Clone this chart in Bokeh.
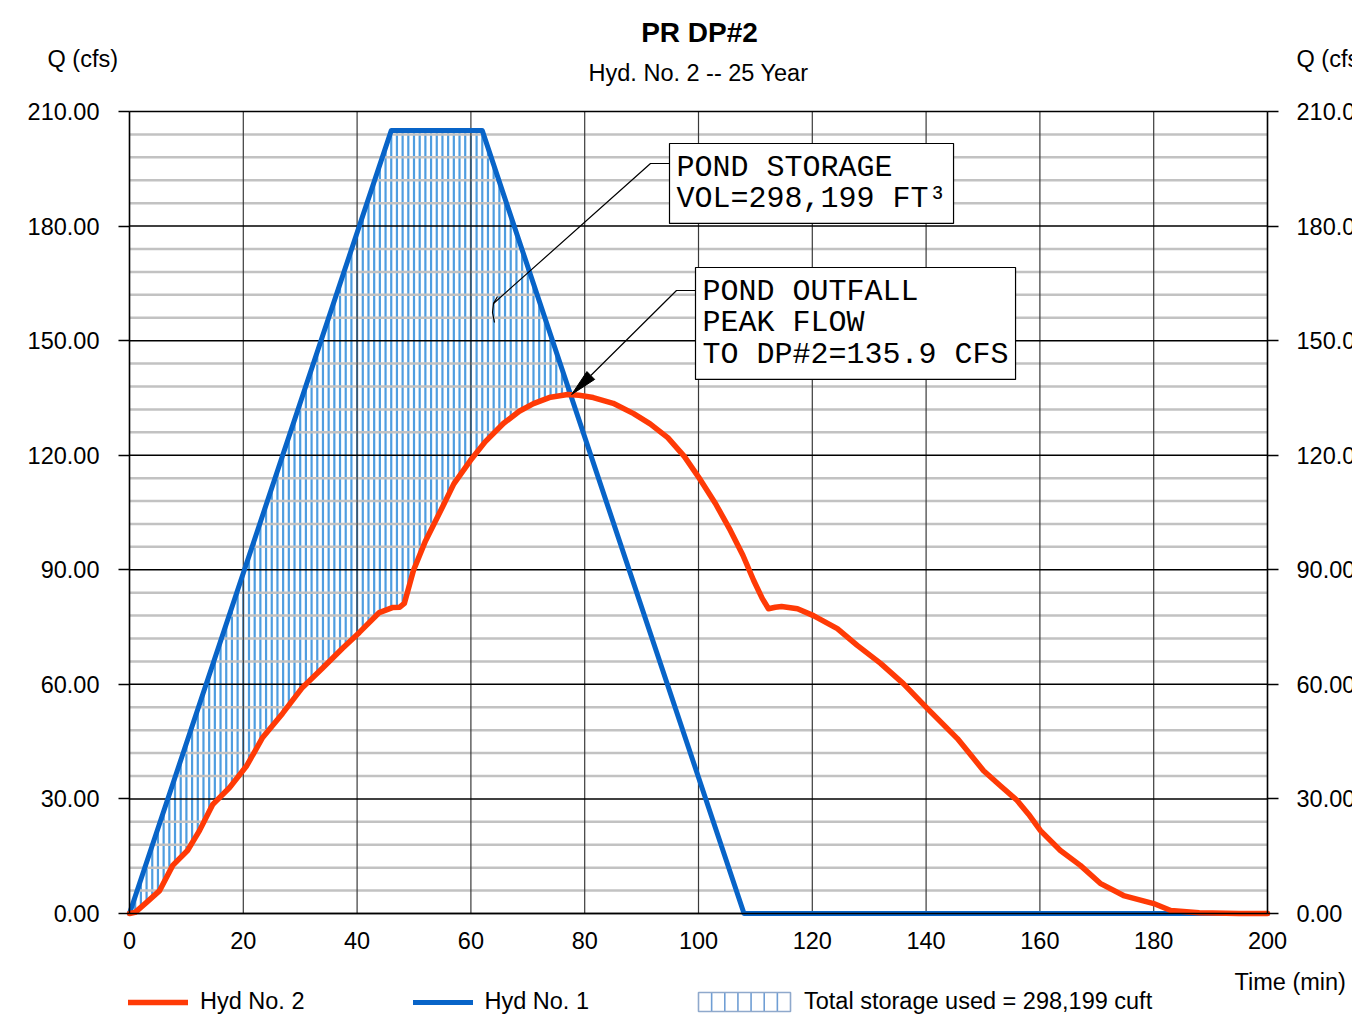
import numpy as np
from bokeh.plotting import figure
from bokeh.models import (FixedTicker, NumeralTickFormatter, LinearAxis, Range1d, Legend,
                          LegendItem, Label)
from bokeh.embed import file_html
from bokeh.resources import INLINE

# ---------------- data ----------------
time_hyd2 = [0, 1, 3, 5.3, 7.6, 10.2, 12.3, 14.6, 17.6, 20.6, 23.4, 26.9, 30.4, 33.9, 37.4,
             40.4, 43.9, 46.2, 47.5, 48.3, 49.9, 52, 54.7, 57, 59.9, 62.5, 65.7, 68.5, 71, 74,
             77, 79, 81.5, 85, 88.6, 91.5, 94.6, 97.5, 100.4, 103, 105.6, 107.8, 109.7, 111.2,
             112.3, 113.5, 114.6, 117.4, 120.2, 124.4, 127.9, 132, 136, 140.2, 145.5, 150.1,
             153, 156, 158, 160.1, 163.6, 167.1, 170.6, 174.7, 180, 183, 188, 195, 200]
flow_hyd2 = [0, 0.3, 2.9, 6, 12.6, 16.5, 21.7, 28.5, 33, 38.7, 46.1, 52.4, 59.2, 64.2, 69.4,
             73.6, 78.8, 80.1, 80.2, 81.2, 89.8, 97.5, 105.5, 112.5, 118.6, 123.5, 128.3, 131.5,
             133.5, 135.2, 135.9, 135.7, 135.1, 133.6, 130.9, 128.2, 124.6, 119.7, 113.4, 107.3,
             100.3, 93.8, 87.2, 82.5, 79.8, 80.2, 80.4, 79.8, 78, 74.6, 70.2, 65.5, 60.2, 53.7,
             45.8, 37.4, 33.5, 29.6, 26, 21.7, 16.5, 12.6, 7.9, 4.7, 2.6, 0.8, 0.2, 0.0, 0.0]
time_hyd1 = [0, 46, 62, 108, 200]
flow_hyd1 = [0, 205, 205, 0, 0]

x_ticks = [0, 20, 40, 60, 80, 100, 120, 140, 160, 180, 200]
y_ticks = [0, 30, 60, 90, 120, 150, 180, 210]
y_minor = [v for v in range(0, 211, 6) if v % 30 != 0]

title_text = "PR DP#2"
subtitle_text = "Hyd. No. 2 -- 25 Year"
y_caption = "Q (cfs)"
x_caption = "Time (min)"
storage_text = "Total storage used = 298,199 cuft"
note_storage = "POND STORAGE\nVOL=298,199 FT\u00b3"
note_outfall = "POND OUTFALL\nPEAK FLOW\nTO DP#2=135.9 CFS"

RED = "#ff3a06"
BLUE = "#0864c8"
HATCH = "#4e9de0"
FONT = "Liberation Sans"
CAD = "Liberation Mono"
FS = "23.5px"

# ---------------- geometry (canvas px <-> data) ----------------
W, H = 1352, 1019
FRAME_L, FRAME_T, FRAME_W, FRAME_H = 129, 111, 1138, 802
X0, X1, Y0, Y1 = 0.0, 200.0, 0.0, 210.0
SX = FRAME_W / (X1 - X0)
SY = FRAME_H / (Y1 - Y0)


def tx(px):
    return X0 + (px - FRAME_L) / SX


def qy(py):
    return Y0 + (FRAME_T + FRAME_H - py) / SY


p = figure(width=W, height=H, output_backend="svg", toolbar_location=None,
           x_axis_type=None, y_axis_type=None,
           x_range=Range1d(tx(0), tx(W)), y_range=Range1d(qy(H), qy(0)),
           min_border=0, background_fill_color="white", border_fill_color="white")
p.outline_line_color = None

# ---------------- grid (from tick lists) ----------------
r = p.segment(x0=X0, x1=X1, y0=y_minor, y1=y_minor, line_color="#c2c2c2", line_width=2.5)
r.level = "underlay"
r = p.segment(x0=x_ticks, x1=x_ticks, y0=Y0, y1=Y1, line_color="#3a3a3a", line_width=1.2)
r.level = "underlay"
r = p.segment(x0=X0, x1=X1, y0=y_ticks, y1=y_ticks, line_color="black", line_width=1.5)
r.level = "underlay"


def style_axis(ax):
    ax.minor_tick_out = 0
    ax.minor_tick_in = 0
    ax.major_tick_in = 0
    ax.axis_line_color = "black"
    ax.axis_line_width = 1.5
    ax.major_tick_line_color = "black"
    ax.major_tick_line_width = 1.5
    ax.major_label_text_font = FONT
    ax.major_label_text_font_size = FS
    ax.major_label_text_color = "black"


xa = LinearAxis(ticker=FixedTicker(ticks=x_ticks), fixed_location=Y0, bounds=(X0, X1))
style_axis(xa)
xa.major_tick_out = 0
xa.major_label_standoff = 18
p.add_layout(xa, "below")

ya = LinearAxis(ticker=FixedTicker(ticks=y_ticks), fixed_location=X0, bounds=(Y0, Y1),
                formatter=NumeralTickFormatter(format="0.00"))
style_axis(ya)
ya.major_tick_out = 11
ya.major_label_standoff = 19
p.add_layout(ya, "left")

ra = LinearAxis(ticker=FixedTicker(ticks=y_ticks), fixed_location=X1, bounds=(Y0, Y1),
                formatter=NumeralTickFormatter(format="0.00"))
style_axis(ra)
ra.major_tick_out = 11
ra.major_label_standoff = 18
p.add_layout(ra, "right")

# ---------------- texts ----------------
p.add_layout(Label(x=tx(699), y=qy(32), text=title_text, text_font=FONT, text_font_size="28px",
                   text_font_style="bold", text_align="center", text_baseline="middle",
                   text_color="black"))
p.add_layout(Label(x=tx(698), y=qy(72), text=subtitle_text, text_font=FONT, text_font_size=FS,
                   text_align="center", text_baseline="middle", text_color="black"))
p.add_layout(Label(x=tx(47), y=qy(58), text=y_caption, text_font=FONT, text_font_size=FS,
                   text_baseline="middle", text_align="left", text_color="black"))
p.add_layout(Label(x=tx(1296), y=qy(58), text=y_caption, text_font=FONT, text_font_size=FS,
                   text_baseline="middle", text_align="left", text_color="black"))
p.add_layout(Label(x=tx(1234), y=qy(981), text=x_caption, text_font=FONT, text_font_size=FS,
                   text_baseline="middle", text_align="left", text_color="black"))

# ---------------- storage hatch ----------------
t2 = np.array(time_hyd2, dtype=float)
q2 = np.array(flow_hyd2, dtype=float)
t1 = np.array(time_hyd1, dtype=float)
q1 = np.array(flow_hyd1, dtype=float)
th = np.arange(1.0, 80.0, 1.0)
lo = np.interp(th, t2, q2)
hi = np.interp(th, t1, q1)
keep = hi > lo
hatch_r = p.segment(x0=th[keep], x1=th[keep], y0=lo[keep], y1=hi[keep],
                    line_color=HATCH, line_width=2.2)
hatch_r.level = "image"

# ---------------- hydrographs ----------------
r_blue = p.line(time_hyd1, flow_hyd1, line_color=BLUE, line_width=5, line_join="round",
                line_cap="round")
r_red = p.line(time_hyd2, flow_hyd2, line_color=RED, line_width=5.5, line_join="round",
               line_cap="round")

# ---------------- legend ----------------
r_store_proxy = p.quad(left=[], right=[], top=[], bottom=[], fill_alpha=0, line_alpha=0)

LEG_Y = H - 1015
leg_a = Legend(items=[LegendItem(label="Hyd No. 2", renderers=[r_red]),
                      LegendItem(label="Hyd No. 1", renderers=[r_blue])],
               orientation="horizontal", location=(128, LEG_Y), glyph_width=60,
               glyph_height=20, label_standoff=12, spacing=108, padding=0, margin=0,
               border_line_alpha=0, background_fill_alpha=0,
               label_text_font=FONT, label_text_font_size=FS, label_text_color="black")
leg_b = Legend(items=[LegendItem(label=storage_text, renderers=[r_store_proxy])],
               orientation="horizontal", location=(698, LEG_Y), glyph_width=92,
               glyph_height=19, label_standoff=14, padding=0, margin=0,
               border_line_alpha=0, background_fill_alpha=0,
               label_text_font=FONT, label_text_font_size=FS, label_text_color="black")
p.add_layout(leg_a, "center")
p.add_layout(leg_b, "center")

# hatched swatch for the storage legend entry
sw_l, sw_r, sw_t, sw_b = tx(698), tx(790), qy(992), qy(1011)
sw_x = np.linspace(sw_l, sw_r, 8)[1:-1]
r = p.segment(x0=sw_x, x1=sw_x, y0=sw_b, y1=sw_t, line_color="#6f9ed4", line_width=1.6)
r.level = "overlay"
r = p.quad(left=[sw_l], right=[sw_r], top=[sw_t], bottom=[sw_b], fill_alpha=0,
           line_color="#8fa9cc", line_width=1.6)
r.level = "overlay"

# ---------------- notes ----------------
p.add_layout(Label(x=tx(669), y=qy(143), text=note_storage, text_baseline="top",
                   text_align="left", text_font=CAD, text_font_size="30px",
                   text_line_height=0.94, padding=7, border_line_color="black",
                   border_line_width=1.2, background_fill_color="white", text_color="black"))
p.add_layout(Label(x=tx(695), y=qy(267), text=note_outfall, text_baseline="top",
                   text_align="left", text_font=CAD, text_font_size="30px",
                   text_line_height=0.94, padding=7, border_line_color="black",
                   border_line_width=1.2, background_fill_color="white", text_color="black"))

# leader 1
r = p.line([tx(669), tx(650), tx(493)], [qy(163), qy(163), qy(303)],
           line_color="black", line_width=1.2)
r.level = "overlay"
r = p.line([tx(497), tx(493), tx(492), tx(494)], [qy(296), qy(303), qy(312), qy(322)],
           line_color="black", line_width=1.2)
r.level = "overlay"

# leader 2 with arrow to peak of outflow
ipk = int(np.argmax(q2))
tip = np.array([FRAME_L + (t2[ipk] - X0) * SX + 4, FRAME_T + FRAME_H - (q2[ipk] - Y0) * SY])
start = np.array([676.0, 290.0])
u = (tip - start) / np.linalg.norm(tip - start)
n = np.array([-u[1], u[0]])
base = tip - 27 * u
c1 = base + 5.5 * n
c2 = base - 5.5 * n
r = p.line([tx(695), tx(676), tx(base[0])], [qy(290), qy(290), qy(base[1])],
           line_color="black", line_width=1.2)
r.level = "overlay"
r = p.patch([tx(tip[0]), tx(c1[0]), tx(c2[0])], [qy(tip[1]), qy(c1[1]), qy(c2[1])],
            fill_color="black", line_color="black", line_width=1)
r.level = "overlay"

open("out.html", "w").write(file_html(p, INLINE))
